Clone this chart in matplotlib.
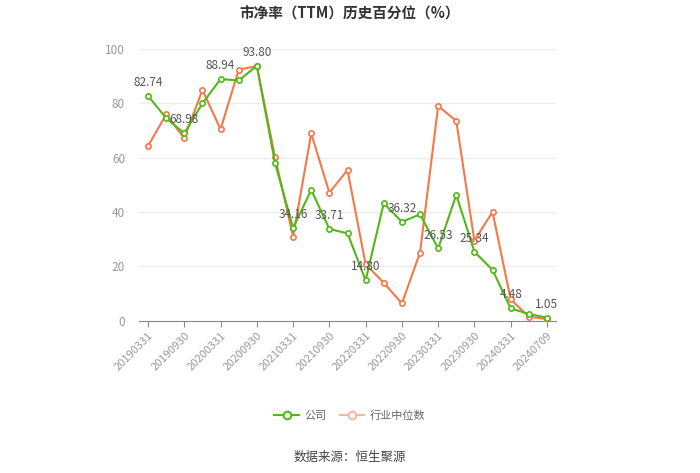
#!/usr/bin/env python3
# -*- coding: utf-8 -*-

import numpy as np
import matplotlib
matplotlib.use("Agg")
import matplotlib.pyplot as plt
from matplotlib.lines import Line2D

plt.rcParams['font.family'] = ['Noto Sans CJK SC', 'DejaVu Sans']

# data
dates = ["20190331", "20190630", "20190930", "20191231",
         "20200331", "20200630", "20200930", "20201231",
         "20210331", "20210630", "20210930", "20211231",
         "20220331", "20220630", "20220930", "20221231",
         "20230331", "20230630", "20230930", "20231231",
         "20240331", "20240630", "20240709"]
company = [82.74, 74.5, 68.98, 80.0, 88.94, 88.4, 93.80, 58.1,
           34.16, 48.1, 33.71, 32.1, 14.80, 43.2, 36.32, 39.1,
           26.53, 46.3, 25.34, 18.6, 4.48, 2.4, 1.05]
industry = [64.3, 75.9, 67.1, 84.9, 70.4, 92.4, 93.7, 60.3,
            30.9, 68.9, 47.1, 55.4, 20.7, 13.9, 6.3, 25.0,
            79.0, 73.5, 29.4, 40.0, 7.8, 1.4, 0.5]
yticks = [0, 20, 40, 60, 80, 100]

GREEN = "#52b818"
ORANGE = "#f4784a"

fig = plt.figure(figsize=(7, 4.73), dpi=100)
ax = fig.add_axes([139 / 700, 1 - 320.5 / 473, (556 - 139) / 700, (320.5 - 49) / 473])

x = np.arange(len(dates))
ax.plot(x, industry, color=ORANGE, lw=1.5, marker="o", ms=3.8,
        mfc="white", mec=ORANGE, mew=1.2, zorder=3)
ax.plot(x, company, color=GREEN, lw=1.5, marker="o", ms=3.8,
        mfc="white", mec=GREEN, mew=1.2, zorder=4)

# labels on every other company point
for i in range(0, len(dates), 2):
    ax.annotate("{:.2f}".format(company[i]), (x[i], company[i]),
                xytext=(0, 5), textcoords="offset points",
                ha="center", va="bottom", fontsize=8.5, color="#555555", zorder=5)

ax.set_xlim(-0.5, len(dates) - 0.5)
ax.set_ylim(0, 100)
ax.set_yticks(yticks)
ax.set_yticklabels([str(v) for v in yticks], color="#999999", fontsize=8.5)
ax.set_xticks(x[::2])
ax.set_xticklabels(dates[::2], rotation=45, ha="right", rotation_mode="anchor",
                   color="#999999", fontsize=8)
ax.tick_params(axis="y", length=0, pad=10)
ax.tick_params(axis="x", length=4, color="#888888", pad=3)
ax.grid(axis="y", color="#ebebeb", lw=0.8)
ax.set_axisbelow(True)
for s in ["top", "right", "left"]:
    ax.spines[s].set_visible(False)
ax.spines["bottom"].set_color("#888888")

fig.text(0.5, 1 - 14 / 473, "市净率（TTM）历史百分位（%）", ha="center", va="center",
         fontsize=10.5, fontweight="bold", color="#333333")

handles = [Line2D([], [], color=GREEN, lw=1.5, marker="o", ms=5.5, mfc="white", mec=GREEN, mew=1.5),
           Line2D([], [], color="#f8b89f", lw=1.5, marker="o", ms=5.5, mfc="white", mec="#f8b89f", mew=1.5)]
fig.legend(handles, ["公司", "行业中位数"], loc="center", bbox_to_anchor=(0.5, 1 - 416 / 473),
           ncol=2, frameon=False, fontsize=8, handlelength=2.2, columnspacing=1.2,
           handletextpad=0.5, labelcolor="#666666")

fig.text(0.5, 1 - 457 / 473, "数据来源：恒生聚源", ha="center", va="center",
         fontsize=9, color="#444444")

fig.savefig("out.png", dpi=100)
